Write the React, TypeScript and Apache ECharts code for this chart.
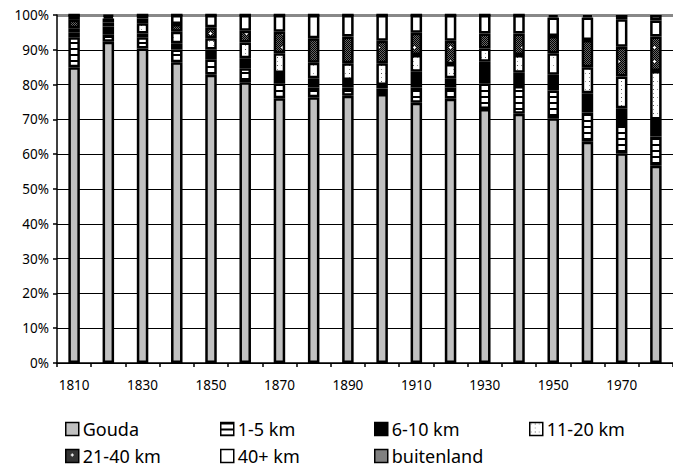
import React, { useEffect, useRef } from 'react';
import * as echarts from 'echarts';

const years = ['1810', '1820', '1830', '1840', '1850', '1860', '1870', '1880', '1890', '1900', '1910', '1920', '1930', '1940', '1950', '1960', '1970', '1980'];
const seriesNames = ['Gouda', '1-5 km', '6-10 km', '11-20 km', '21-40 km', '40+ km', 'buitenland'];
const gouda = [85.0, 92.3, 90.4, 86.4, 82.8, 80.7, 76.1, 76.4, 76.8, 77.3, 74.8, 75.9, 73.0, 71.6, 70.3, 63.6, 60.3, 56.7];
const km1to5 = [8.6, 2.2, 3.2, 3.7, 4.5, 4.0, 4.3, 2.8, 2.4, 1.6, 4.4, 3.3, 7.4, 8.0, 8.0, 8.4, 8.1, 8.4];
const km6to10 = [1.3, 2.2, 1.1, 1.8, 2.8, 2.9, 2.9, 2.6, 2.1, 1.0, 4.5, 2.6, 6.2, 3.8, 4.5, 5.5, 4.8, 4.9];
const km11to20 = [1.3, 1.1, 2.9, 3.3, 3.2, 4.5, 5.7, 4.5, 4.8, 6.2, 4.8, 4.1, 3.8, 5.1, 6.2, 7.5, 9.1, 13.9];
const km21to40 = [2.4, 1.2, 1.4, 2.2, 3.2, 3.4, 6.2, 7.0, 7.7, 6.5, 6.4, 6.7, 4.3, 6.2, 5.0, 7.8, 8.6, 9.9];
const km40plus = [1.4, 0.6, 1.0, 2.6, 3.5, 4.5, 4.8, 6.7, 6.2, 7.4, 5.1, 7.4, 5.3, 5.3, 5.3, 6.5, 7.9, 4.6];
const buitenland = [0, 0.4, 0, 0, 0, 0, 0, 0, 0, 0, 0, 0, 0, 0, 0.7, 0.7, 1.2, 1.6];
const seriesValues = [gouda, km1to5, km6to10, km11to20, km21to40, km40plus, buitenland];
const yMax = 100;

const FONT = '"Noto Sans", sans-serif';

function makePattern(w: number, h: number, draw: (ctx: CanvasRenderingContext2D) => void) {
  const c = document.createElement('canvas');
  c.width = w;
  c.height = h;
  const ctx = c.getContext('2d') as CanvasRenderingContext2D;
  draw(ctx);
  return { image: c, repeat: 'repeat' } as any;
}

export default function App() {
  const ref = useRef<HTMLDivElement>(null);
  useEffect(() => {
    if (!ref.current) return;
    const stripes = makePattern(4, 6, (ctx) => {
      ctx.fillStyle = '#fff';
      ctx.fillRect(0, 0, 4, 6);
      ctx.fillStyle = '#000';
      ctx.fillRect(0, 0, 4, 2);
    });
    const dots = makePattern(8, 8, (ctx) => {
      ctx.fillStyle = '#fff';
      ctx.fillRect(0, 0, 8, 8);
      ctx.fillStyle = '#999';
      ctx.fillRect(1, 1, 1, 1);
      ctx.fillRect(5, 5, 1, 1);
      ctx.fillStyle = '#555';
      ctx.fillRect(5, 1, 1, 1);
    });
    const checker = makePattern(12, 14, (ctx) => {
      for (let y = 0; y < 14; y++) {
        for (let x = 0; x < 12; x++) {
          ctx.fillStyle = (x + y) % 2 === 0 ? '#000' : '#666';
          ctx.fillRect(x, y, 1, 1);
        }
      }
      ctx.fillStyle = '#fff';
      ctx.fillRect(6, 4, 1, 3);
      ctx.fillRect(5, 5, 3, 1);
    });
    const colors: any[] = ['#c0c0c0', stripes, '#000', dots, checker, '#fff', '#808080'];

    const chart = echarts.init(ref.current, undefined, { renderer: 'svg' });
    const legendPos = [
      [65, 420], [220, 420], [374, 420], [529, 420],
      [65, 447], [220, 447], [374, 447],
    ];
    chart.setOption({
      animation: false,
      grid: { left: 57, top: 15, width: 633, height: 348, containLabel: false },
      legend: seriesNames.map((n, i) => ({
        data: [n],
        left: legendPos[i][0],
        top: legendPos[i][1],
        padding: 0,
        itemWidth: 13,
        itemHeight: 13,
        itemGap: 0,
        selectedMode: false,
        icon: 'rect',
        itemStyle: { borderColor: '#000', borderWidth: 1.5 },
        textStyle: { fontSize: 18, fontFamily: FONT, color: '#000', padding: [0, 0, 0, -1] },
      })),
      xAxis: {
        type: 'category',
        data: years,
        axisLine: { lineStyle: { color: '#000', width: 1.5 } },
        axisTick: { show: true, interval: 0, length: 4, lineStyle: { color: '#000', width: 1.5 } },
        axisLabel: { interval: 1, margin: 15, fontSize: 13.5, color: '#000', fontFamily: FONT },
        splitLine: { show: false },
      },
      yAxis: {
        type: 'value',
        min: 0,
        max: yMax,
        interval: 10,
        axisLine: { show: true, lineStyle: { color: '#000', width: 1.5 } },
        axisTick: { show: true, length: 4, lineStyle: { color: '#000', width: 1.5 } },
        axisLabel: { formatter: '{value}%', margin: 8, fontSize: 13.5, color: '#000', fontFamily: FONT },
        splitLine: { show: true, showMaxLine: false, lineStyle: { color: '#000', width: 1.2 } },
      },
      series: seriesNames.map((n, i) => ({
        name: n,
        type: 'bar',
        stack: 'total',
        barWidth: 11.5,
        data: seriesValues[i],
        itemStyle: { color: colors[i], borderColor: '#000', borderWidth: 2.5 },
        ...(i === 0
          ? {
              markLine: {
                silent: true,
                symbol: 'none',
                label: { show: false },
                lineStyle: { color: '#888', width: 3, type: 'solid' },
                data: [{ yAxis: yMax }],
                z: 0,
              },
            }
          : {}),
      })),
    });
    return () => chart.dispose();
  }, []);
  return <div ref={ref} style={{ position: 'absolute', left: 0, top: 0, width: 673, height: 468 }} />;
}
